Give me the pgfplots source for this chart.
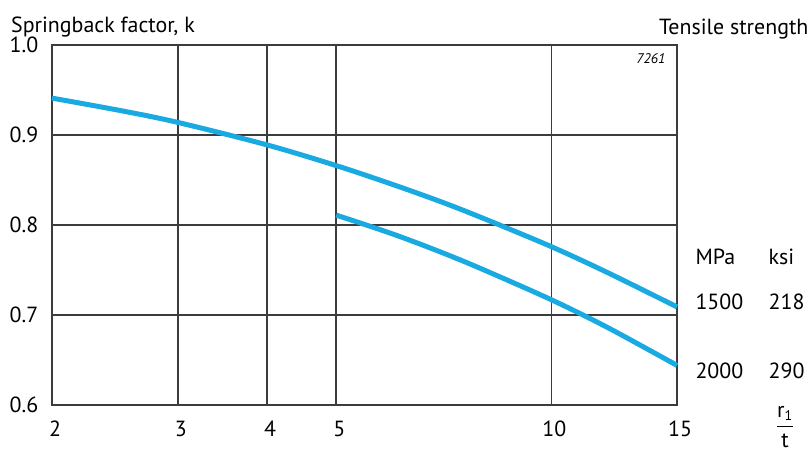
\documentclass[border=0pt]{standalone}
\usepackage{fontspec}
\setmainfont{PT Sans}
\usepackage{pgfplots}
\pgfplotsset{compat=1.18}
\definecolor{curveblue}{RGB}{26,170,226}
\definecolor{gridgray}{RGB}{60,60,60}
\begin{document}
\fontsize{11}{13}\selectfont
\begin{tikzpicture}
\useasboundingbox (-26bp,-23.5bp) rectangle (380bp,202.5bp);
\begin{axis}[
    at={(0,0)}, anchor=south west,
    scale only axis,
    width=312.5bp, height=180bp,
    xmode=log,
    xmin=2, xmax=15, ymin=0.6, ymax=1.0,
    xtick={2,3,4,5,10,15},
    xticklabels={2,3,4,5,10,15},
    ytick={0.6,0.7,0.8,0.9,1.0},
    yticklabel style={xshift=-3bp,/pgf/number format/.cd,fixed,fixed zerofill,precision=1},
    /pgf/number format/assume math mode=true,
    major tick length=0pt,
    grid=major,
    major grid style={gridgray,line width=0.75bp},
    axis line style={gridgray,line width=0.8bp},
    tick label style={font=\fontsize{11}{13}\selectfont},
    xticklabel style={yshift=-4bp,xshift=1.5bp},
    clip=false,
]
% tensile strength 1500 MPa
\addplot[curveblue,line width=2.5bp,smooth] coordinates {
    (2,0.941) (2.5,0.927) (3,0.914) (4,0.889) (5,0.866) (6,0.845)
    (7,0.826) (8,0.808) (10,0.776) (12,0.747) (15,0.709)
};
% tensile strength 2000 MPa
\addplot[curveblue,line width=2.5bp,smooth] coordinates {
    (5,0.811) (6,0.790) (7,0.770) (8,0.751) (10,0.717) (12,0.686) (15,0.644)
};
\node[anchor=base west,inner sep=0pt] at (rel axis cs:-0.066,1.036) {Springback factor, k};
\node[anchor=base east,inner sep=0pt] at (rel axis cs:1.211,1.028) {Tensile strength};
\node[anchor=north east,inner sep=0pt,font=\fontsize{7}{8}\selectfont\itshape] at (rel axis cs:0.982,0.978) {7261};
\node[anchor=base west,inner sep=0pt] at (rel axis cs:1.029,0.389) {MPa};
\node[anchor=base west,inner sep=0pt] at (rel axis cs:1.146,0.389) {ksi};
\node[anchor=base west,inner sep=0pt] at (rel axis cs:1.029,0.264) {1500};
\node[anchor=base west,inner sep=0pt] at (rel axis cs:1.146,0.264) {218};
\node[anchor=base west,inner sep=0pt] at (rel axis cs:1.029,0.075) {2000};
\node[anchor=base west,inner sep=0pt] at (rel axis cs:1.146,0.075) {290};
\node[inner sep=0pt] at (rel axis cs:1.173,-0.061) {$\displaystyle\frac{\mbox{r}_{\mbox{\fontsize{7}{8}\selectfont 1}}}{\mbox{t}}$};
\end{axis}
\end{tikzpicture}
\end{document}
